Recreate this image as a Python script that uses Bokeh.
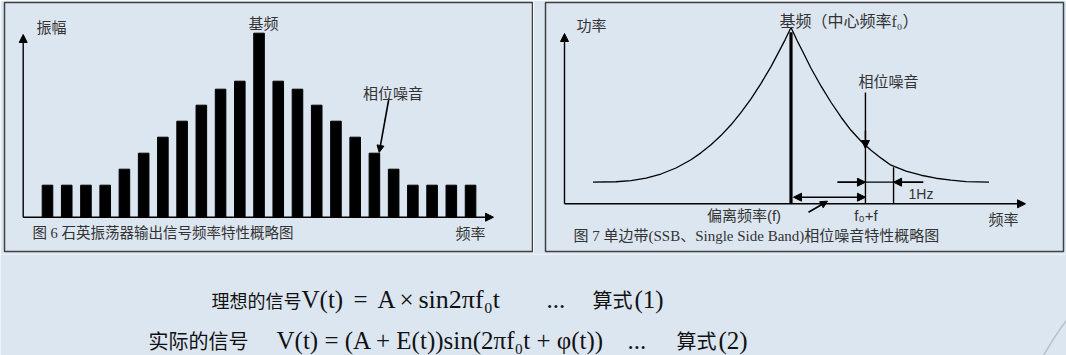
from bokeh.plotting import figure
from bokeh.models import Range1d, Arrow, NormalHead, Label
from bokeh.layouts import column, row
from bokeh.embed import file_html
from bokeh.resources import INLINE

BG = "#dce6f1"
INK = "#333333"
CJK = "'Noto Sans CJK SC'"
SERIF = "'Liberation Serif', 'Noto Sans CJK SC'"
SANS = "'Liberation Sans', 'Noto Sans CJK SC'"

# ---------------- data ----------------
# Fig.6: amplitude of spectral lines (arbitrary units), index 11 = fundamental
bar_pos = list(range(23))
bar_amp = [2, 2, 2, 2, 3, 4, 5, 6, 7, 8, 8.5, 11.5, 8.5, 8, 7, 6, 5, 4, 3, 2, 2, 2, 2]
noise_bar = 17

# Fig.7: SSB power spectrum (offset from f0, power)
curve_left_x = [-10, -8.84, -8.08, -7.32, -6.57, -5.81, -5.05, -4.55, -4.04, -3.54,
                -3.03, -2.53, -2.02, -1.52, -1.01, -0.61, -0.30, 0]
curve_left_p = [1.23, 1.25, 1.32, 1.46, 1.69, 2.03, 2.50, 2.89, 3.35, 3.87,
                4.48, 5.17, 5.95, 6.82, 7.78, 8.63, 9.30, 10.0]
curve_right_x = [0.30, 0.61, 1.01, 1.52, 2.02, 2.53, 3.03, 3.54, 4.04, 4.55,
                 5.05, 5.81, 6.57, 7.32, 8.08, 8.84, 10]
curve_right_p = [9.28, 8.60, 7.69, 6.67, 5.76, 4.91, 4.17, 3.55, 3.04, 2.59,
                 2.19, 1.85, 1.62, 1.45, 1.34, 1.26, 1.23]
carrier_power = 9.73
offset_f = 3.76
one_hz = 1.42


def panel(width, height, xr, yr, left, right, top, bottom):
    p = figure(width=width, height=height, x_range=Range1d(*xr), y_range=Range1d(*yr),
               output_backend="svg", toolbar_location=None, title=None,
               x_axis_location=None, y_axis_location=None,
               min_border_left=left, min_border_right=right,
               min_border_top=top, min_border_bottom=bottom)
    p.grid.visible = False
    p.background_fill_color = BG
    p.border_fill_color = BG
    p.outline_line_color = None
    return p


def label(p, x, y, text, size, font=CJK, align="center", color=INK, style="normal"):
    p.add_layout(Label(x=x, y=y, text=text, text_font=font, text_font_size=f"{size}px",
                       text_align=align, text_baseline="middle", text_color=color,
                       text_font_style=style))


def arrow(p, x0, y0, x1, y1, size=8, both=False, width=1.4):
    p.add_layout(Arrow(x_start=x0, y_start=y0, x_end=x1, y_end=y1,
                       line_width=width, line_color="black",
                       end=NormalHead(size=size, fill_color="black", line_color="black", line_width=1),
                       start=NormalHead(size=size, fill_color="black", line_color="black", line_width=1) if both else None))


# ---------------- panel 1 ----------------
def X1(px): return (px - 47) / 19.23
def Y1(py): return (216.7 - py) / 16

p1 = panel(533, 254, (X1(4), X1(532)), (Y1(251), Y1(2)), 4, 1, 2, 3)
p1.outline_line_color = "#404040"
p1.outline_line_width = 1.5
p1.vbar(x=bar_pos, top=bar_amp, bottom=0, width=0.55, color="black")
arrow(p1, X1(22.7), 0, X1(22.7), Y1(34))
arrow(p1, X1(22.7), 0, X1(493), 0)
arrow(p1, X1(388.4), Y1(98), noise_bar + 0.25, bar_amp[noise_bar] + 0.05, size=7, width=1.6)
label(p1, X1(51), Y1(26), "振幅", 15)
label(p1, X1(263), Y1(22), "基频", 15)
label(p1, X1(392.5), Y1(92), "相位噪音", 15)
label(p1, X1(470), Y1(232), "频率", 15)
label(p1, X1(32), Y1(232), "图 6  石英振荡器输出信号频率特性概略图", 14.5, font=SERIF, align="left")

# ---------------- panel 2 ----------------
def X2(px): return (px - 790.5) / 19.8
def Y2(py): return (203.3 - py) / 17.63

p2 = panel(533, 254, (X2(545), X2(1063)), (Y2(251), Y2(2)), 12, 3, 2, 3)
p2.outline_line_color = "#404040"
p2.outline_line_width = 1.5
p2.line(curve_left_x + curve_right_x, curve_left_p + curve_right_p, line_width=1.3, color="black")
p2.segment(x0=[0], y0=[0], x1=[0], y1=[carrier_power], line_width=3.2, color="black")
arrow(p2, X2(564), 0, X2(564), Y2(33))
arrow(p2, X2(564), 0, X2(1025), 0)
# phase-noise marker at f0+f
p2.segment(x0=[offset_f], y0=[0], x1=[offset_f], y1=[Y2(92)], line_width=1.4, color="black")
arrow(p2, offset_f, Y2(130), offset_f, Y2(148), size=8)
# 1 Hz band
p2.segment(x0=[offset_f + one_hz], y0=[0], x1=[offset_f + one_hz], y1=[Y2(166.7)], line_width=1.4, color="black")
p2.segment(x0=[X2(837)], y0=[Y2(181.7)], x1=[X2(922.7)], y1=[Y2(181.7)], line_width=1.3, color="black")
arrow(p2, X2(837), Y2(181.7), offset_f, Y2(181.7), size=8)
arrow(p2, X2(922.7), Y2(181.7), offset_f + one_hz, Y2(181.7), size=8)
# offset frequency double arrow
arrow(p2, X2(793), Y2(196.7), offset_f, Y2(196.7), size=8, both=True)
arrow(p2, X2(808), Y2(211.7), X2(827), Y2(200.7), size=7, width=1.6)

label(p2, X2(591), Y2(24), "功率", 15)
label(p2, X2(779), Y2(20.7), "基频（中心频率f₀）", 16, font=SERIF, align="left")
label(p2, X2(888), Y2(80), "相位噪音", 15)
label(p2, X2(743.5), Y2(215), "偏离频率(f)", 15, font=SANS)
label(p2, X2(865.5), Y2(215), "f₀+f", 15, font=SANS)
label(p2, X2(908), Y2(193), "1Hz", 14, font=SANS, align="left")
label(p2, X2(1003), Y2(218), "频率", 15)
label(p2, X2(573), Y2(235), "图 7  单边带(SSB、Single Side Band)相位噪音特性概略图", 15, font=SERIF, align="left")

# ---------------- formulas ----------------
p3 = panel(1066, 101, (0, 1066), (355, 254), 0, 0, 0, 0)
FCOL = "#111111"
FS = 25
label(p3, 211, 299, "理想的信号", 18, color=FCOL, align="left")
label(p3, 301, 299, "V(t)", FS, font=SERIF, color=FCOL, align="left")
label(p3, 353, 299, "=", FS, font=SERIF, color=FCOL, align="left")
label(p3, 377, 299, "A", FS, font=SERIF, color=FCOL, align="left")
label(p3, 399, 299, "×", FS, font=SERIF, color=FCOL, align="left")
label(p3, 418, 299, "sin2πf₀t", FS + 1, font=SERIF, color=FCOL, align="left")
label(p3, 546, 299, "...", FS, font=SERIF, color=FCOL, align="left")
label(p3, 592, 299, "算式", 20, color=FCOL, align="left")
label(p3, 634, 299, "(1)", FS, font=SERIF, color=FCOL, align="left")

label(p3, 148, 340, "实际的信号", 20, color=FCOL, align="left")
label(p3, 276, 340, "V(t) = (A + E(t))sin(2πf₀t + φ(t))", FS, font=SERIF, color=FCOL, align="left")
label(p3, 627, 340, "...", FS, font=SERIF, color=FCOL, align="left")
label(p3, 676, 340, "算式", 20, color=FCOL, align="left")
label(p3, 718, 340, "(2)", FS, font=SERIF, color=FCOL, align="left")

# faint slide decoration in the lower-right corner
p3.line([1043, 1052, 1060, 1066], [355, 340, 328, 320], line_color="#b9c2cc", line_width=1.5)

layout = column(row(p1, p2), p3)
open("out.html", "w").write(file_html(layout, INLINE))
